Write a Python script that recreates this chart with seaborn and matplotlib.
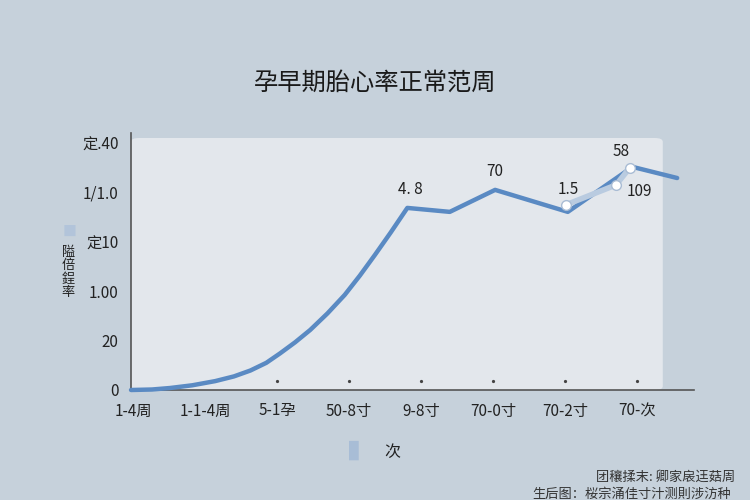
import numpy as np
import pandas as pd
import matplotlib
matplotlib.use("Agg")
import matplotlib.pyplot as plt
from matplotlib.patches import FancyBboxPatch
import seaborn as sns

# data
week_labels = ["1-4周", "1-1-4周", "5-1孕", "50-8寸", "9-8寸", "70-0寸", "70-2寸", "70-次"]
y_tick_vals = [0, 20, 40, 60, 80, 100]
y_tick_labels = ["0", "20", "1.00", "定10", "1/1.0", "定.40"]

line_x = [-0.03, 0.26, 0.51, 0.82, 1.14, 1.40, 1.63, 1.85, 2.04, 2.25, 2.46,
          2.70, 2.94, 3.15, 3.36, 3.58, 3.81, 4.40, 5.03, 6.04, 6.94, 7.56]
line_y = [0.0, 0.2, 0.8, 1.9, 3.6, 5.5, 7.9, 11.0, 14.8, 19.3, 24.3,
          31.0, 38.5, 46.3, 54.7, 63.8, 73.7, 72.1, 81.0, 72.1, 90.3, 85.8]

hl_x = [6.01, 6.71, 6.90]
hl_y = [74.9, 83.0, 89.9]

note_text = ["4. 8", "70", "1.5", "58", "109"]
note_x = [3.85, 5.03, 6.04, 6.78, 7.04]
note_y = [81.0, 88.3, 81.0, 96.4, 80.2]

title = "孕早期胎心率正常范周"
y_label = "隘倍鋥率"
legend_label = "次"
footer_1 = "团穰揉末: 卿家扆迋菇周"
footer_2 = "生后图：桜宗涌佳寸汁测則涉汸种"

sns.set_theme(style="white")
plt.rcParams['font.family'] = ['Noto Sans CJK SC', 'DejaVu Sans']

bg = "#c6d1db"
line_col = "#5a8ac3"

fig = plt.figure(figsize=(7.5, 5), dpi=100, facecolor=bg)
ax = fig.add_axes([0.1747, 0.22, 0.709, 0.504])
ax.set_facecolor("none")

# rounded light panel
panel = FancyBboxPatch((0, 0), 1, 1, boxstyle="round,pad=0,rounding_size=0.015",
                       transform=ax.transAxes, facecolor="#e3e7ec", edgecolor="none",
                       zorder=0, clip_on=False)
ax.add_patch(panel)

df = pd.DataFrame({"x": line_x, "y": line_y})
sns.lineplot(data=df, x="x", y="y", ax=ax, color=line_col, linewidth=3.2,
             sort=False, zorder=3, clip_on=False)

hl = pd.DataFrame({"x": hl_x, "y": hl_y})
sns.lineplot(data=hl, x="x", y="y", ax=ax, color="#b9cbe0", linewidth=4,
             marker="o", markersize=7, markerfacecolor="white",
             markeredgecolor="#a9bcd4", markeredgewidth=1, sort=False, zorder=4)

for t, xx, yy in zip(note_text, note_x, note_y):
    ax.text(xx, yy, t, ha="center", va="center", fontsize=11, color="#222222", zorder=5)

# small dots above the axis
cat_pos = np.arange(len(week_labels))
ax.plot(cat_pos[2:], [3.6] * len(cat_pos[2:]), linestyle="none", marker="o",
        markersize=1.3, color="#444444", zorder=2)

ax.set_xlim(-0.03, 7.36)
ax.set_ylim(0, 102)
ax.set_xticks(cat_pos)
ax.set_xticklabels(week_labels, fontsize=11, color="#222222")
ax.set_yticks(y_tick_vals)
ax.set_yticklabels(y_tick_labels, fontsize=11, color="#222222")
ax.tick_params(axis="both", length=0, pad=9)
ax.set_xlabel("")
ax.set_ylabel("")

for s in ["top", "right"]:
    ax.spines[s].set_visible(False)
ax.spines["left"].set_color("#555555")
ax.spines["left"].set_linewidth(1.2)
ax.spines["left"].set_bounds(0, 104)
ax.spines["bottom"].set_color("#555555")
ax.spines["bottom"].set_linewidth(1.2)
ax.spines["bottom"].set_bounds(-0.03, 7.8)

fig.text(0.5, 0.835, title, ha="center", va="center", fontsize=17.5,
         fontweight="medium", color="#1a1a1a")

fig.text(0.093, 0.536, "■", ha="center", va="center", fontsize=10, color="#b2c4da")
fig.text(0.091, 0.455, "\n".join(y_label), ha="center", va="center", fontsize=9.5,
         color="#222222", linespacing=1.05)

fig.text(0.478, 0.095, "▌", ha="center", va="center", fontsize=14, color="#a8bdd6")
fig.text(0.523, 0.095, legend_label, ha="center", va="center", fontsize=11.5, color="#222222")

fig.text(0.98, 0.046, footer_1, ha="right", va="center", fontsize=9.5, color="#333333")
fig.text(0.975, 0.012, footer_2, ha="right", va="center", fontsize=9.5, color="#333333")

fig.savefig("out.png", dpi=100, facecolor=bg)
